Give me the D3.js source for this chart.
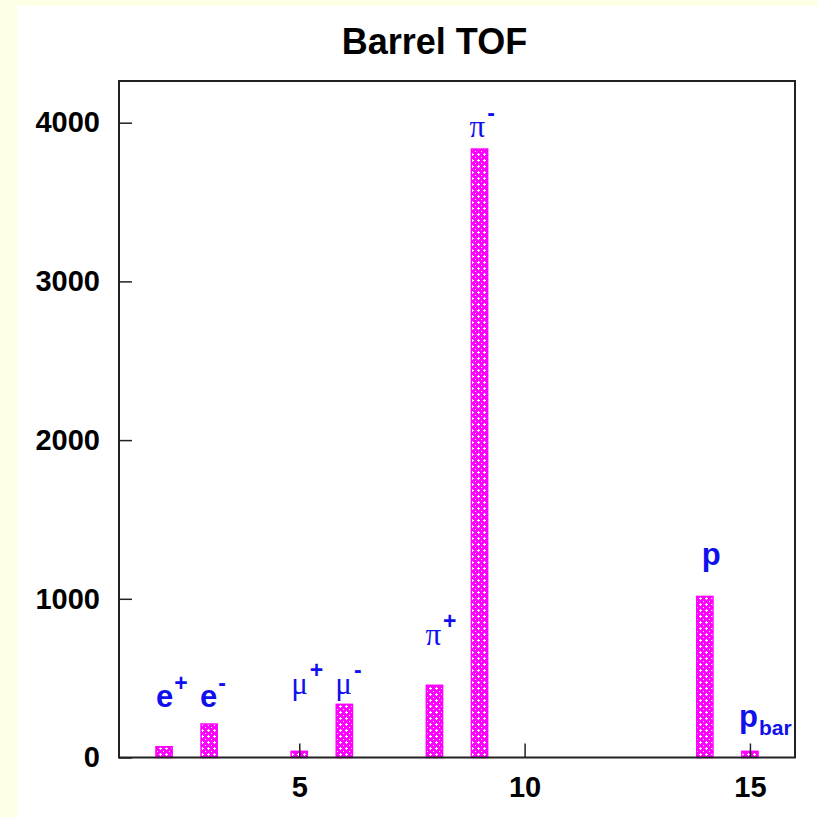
<!DOCTYPE html>
<html>
<head>
<meta charset="utf-8">
<script src="https://cdn.jsdelivr.net/npm/d3@7/dist/d3.min.js"></script>
<style>
    html, body { margin: 0; padding: 0; background: #ffffe6; }
    svg { display: block; }
</style>
</head>
<body>
<div id="container"></div>
<script>
// data //

const particleX = [2, 3, 5, 6, 8, 9, 14, 15]
const particleCounts = [68, 211, 39, 335, 455, 3834, 1015, 39]

const labelBase = ['e', 'e', 'μ', 'μ', 'π', 'π', 'p', 'p']
const labelScript = ['+', '-', '+', '-', '+', '-', '', 'bar']
const labelKind = ['sup', 'sup', 'sup', 'sup', 'sup', 'sup', 'none', 'sub']
const labelGreek = [false, false, true, true, true, true, false, false]
const labelX = [1.82, 2.8, 4.82, 5.8, 7.8, 8.78, 13.93, 14.76]
const labelY = [318, 318, 400, 400, 709, 3910, 1213, 192]

const xTicks = [5, 10, 15]
const yTicks = [0, 1000, 2000, 3000, 4000]

// chart //

const width = 818
const height = 817
const margin = { top: 81, right: 23, bottom: 60, left: 119 }

const svg = d3
    .select('#container')
    .append('svg')
    .attr('width', width)
    .attr('height', height)

// white panel on the cream page
svg.append('rect')
    .attr('x', 17)
    .attr('y', 6)
    .attr('width', width - 17)
    .attr('height', height - 6)
    .attr('fill', 'white')

const defs = svg.append('defs')
const pattern = defs.append('pattern')
    .attr('id', 'dots')
    .attr('patternUnits', 'userSpaceOnUse')
    .attr('width', 6)
    .attr('height', 6)
pattern.append('rect').attr('width', 6).attr('height', 6).attr('fill', '#ff00ff')
pattern.append('rect').attr('x', 1).attr('y', 1).attr('width', 1).attr('height', 1).attr('fill', 'white')
pattern.append('rect').attr('x', 3).attr('y', 4).attr('width', 3).attr('height', 1).attr('fill', 'white')
pattern.append('rect').attr('x', 4).attr('y', 3).attr('width', 1).attr('height', 3).attr('fill', 'white')

const x = d3.scaleLinear()
    .domain([1, 16])
    .range([margin.left, width - margin.right])

const y = d3.scaleLinear()
    .domain([0, 4000])
    .range([757.5, 122.7])

const halfBar = 0.18

svg.append('g')
    .selectAll('rect')
    .data(particleX)
    .join('rect')
    .attr('x', (d) => x(d - halfBar))
    .attr('y', (d, i) => y(particleCounts[i]))
    .attr('width', (d) => x(d + halfBar) - x(d - halfBar))
    .attr('height', (d, i) => y(0) - y(particleCounts[i]))
    .attr('fill', 'url(#dots)')
    .attr('stroke', '#ff00ff')
    .attr('stroke-width', 1.5)

// axes, ticks pointing inward
const tickFont = "bold 29px 'Liberation Sans', Arial, sans-serif"

const yAxis = svg.append('g')
    .attr('transform', `translate(${margin.left},0)`)
    .call(d3.axisLeft(y).tickValues(yTicks).tickSize(-13).tickPadding(19).tickFormat(d3.format('d')))
const xAxis = svg.append('g')
    .attr('transform', `translate(0,${y(0)})`)
    .call(d3.axisBottom(x).tickValues(xTicks).tickSize(-14).tickPadding(19).tickFormat(d3.format('d')))

;[xAxis, yAxis].forEach((axis) => {
    axis.select('.domain').remove()
    axis.selectAll('line').attr('stroke', '#222').attr('stroke-width', 1.5)
    axis.selectAll('text')
        .style('font', tickFont)
        .attr('fill', 'black')
})

// frame
svg.append('rect')
    .attr('x', margin.left)
    .attr('y', margin.top)
    .attr('width', x(16) - margin.left)
    .attr('height', y(0) - margin.top)
    .attr('fill', 'none')
    .attr('stroke', '#222')
    .attr('stroke-width', 2)

// title
svg.append('text')
    .attr('x', 434.5)
    .attr('y', 54)
    .attr('text-anchor', 'middle')
    .style('font', "bold 36px 'Liberation Sans', Arial, sans-serif")
    .text('Barrel TOF')

// particle labels
const labels = svg.append('g')
    .attr('fill', '#1010ee')
    .selectAll('text')
    .data(particleX)
    .join('text')
    .attr('x', (d, i) => x(labelX[i]))
    .attr('y', (d, i) => y(labelY[i]))

labels.append('tspan')
    .style('font', (d, i) => labelGreek[i]
        ? "31px 'Liberation Serif', 'DejaVu Serif', serif"
        : "bold 31px 'Liberation Sans', Arial, sans-serif")
    .text((d, i) => labelBase[i])

labels.append('tspan')
    .attr('dx', (d, i) => (labelGreek[i] ? 2 : 1))
    .attr('dy', (d, i) => (labelKind[i] === 'sup' ? -16 : 8))
    .style('font', (d, i) => labelKind[i] === 'sub'
        ? "bold 21px 'Liberation Sans', Arial, sans-serif"
        : "bold 23px 'Liberation Sans', Arial, sans-serif")
    .text((d, i) => labelScript[i])
</script>
</body>
</html>
